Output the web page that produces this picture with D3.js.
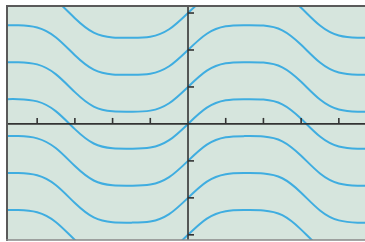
<!DOCTYPE html>
<html><head><meta charset="utf-8">
<script src="https://cdn.jsdelivr.net/npm/d3@7"></script>
<style>html,body{margin:0;padding:0;background:#fff;}svg{display:block;}</style>
</head><body><svg id="c" width="365" height="242"></svg>
<script>
// Base solution curve (offset 0)
const baseX = [-4.8,-4.5,-4,-3.5,-3,-2.5,-2,-1.5,-1,-0.5,0,0.5,1,1.5,2,2.5,3,3.5,4,4.5,4.8];
const baseY = [0.67,0.67,0.61,0.34,-0.14,-0.53,-0.66,-0.67,-0.64,-0.44,0,0.44,0.64,0.67,0.66,0.53,0.14,-0.34,-0.61,-0.67,-0.67];
// Vertical offsets of the family of curves
const offsets = [-4,-3,-2,-1,0,1,2,3,4];
// Tick positions
const xTicks = [-4,-3,-2,-1,1,2,3,4];
const yTicks = [-3,-2,-1,1,2,3];

const svg = d3.select("#c");
const L = 7, T = 6, R = 366, B = 240;
const x = d3.scaleLinear().domain([-4.8, 4.72]).range([L, R]);
const y = d3.scaleLinear().domain([3.19, -3.14]).range([T, B]);

svg.append("defs").append("clipPath").attr("id","clip")
  .append("rect").attr("x",L).attr("y",T).attr("width",R-L).attr("height",B-T);

svg.append("rect").attr("x",L).attr("y",T).attr("width",R-L).attr("height",B-T)
  .attr("fill","#d6e5dd");

const line = d3.line().x(d=>x(d[0])).y(d=>y(d[1])).curve(d3.curveNatural);
const g = svg.append("g").attr("clip-path","url(#clip)");
offsets.forEach(c=>{
  const pts = baseX.map((v,i)=>[v, baseY[i]+c]);
  g.append("path").attr("d", line(pts)).attr("fill","none")
    .attr("stroke","#3fade0").attr("stroke-width",2);
});

// axes
const ax = svg.append("g").attr("stroke","#333").attr("stroke-width",1.6);
ax.append("line").attr("x1",L).attr("x2",R).attr("y1",y(0)).attr("y2",y(0));
ax.append("line").attr("x1",x(0)).attr("x2",x(0)).attr("y1",T).attr("y2",B);
xTicks.forEach(t=>{
  ax.append("line").attr("x1",x(t)).attr("x2",x(t)).attr("y1",y(0)).attr("y2",y(0)-6);
});
yTicks.forEach(t=>{
  ax.append("line").attr("x1",x(0)).attr("x2",x(0)+6).attr("y1",y(t)).attr("y2",y(t));
});

// frame
const fr = svg.append("g").attr("stroke","#5a5a5a").attr("stroke-width",2).attr("fill","none");
fr.append("line").attr("x1",L-1).attr("x2",R).attr("y1",T).attr("y2",T);
fr.append("line").attr("x1",L).attr("x2",L).attr("y1",T).attr("y2",B+1);
fr.append("line").attr("x1",L-1).attr("x2",R).attr("y1",B).attr("y2",B).attr("stroke","#888").attr("stroke-width",1.5);
</script></body></html>
